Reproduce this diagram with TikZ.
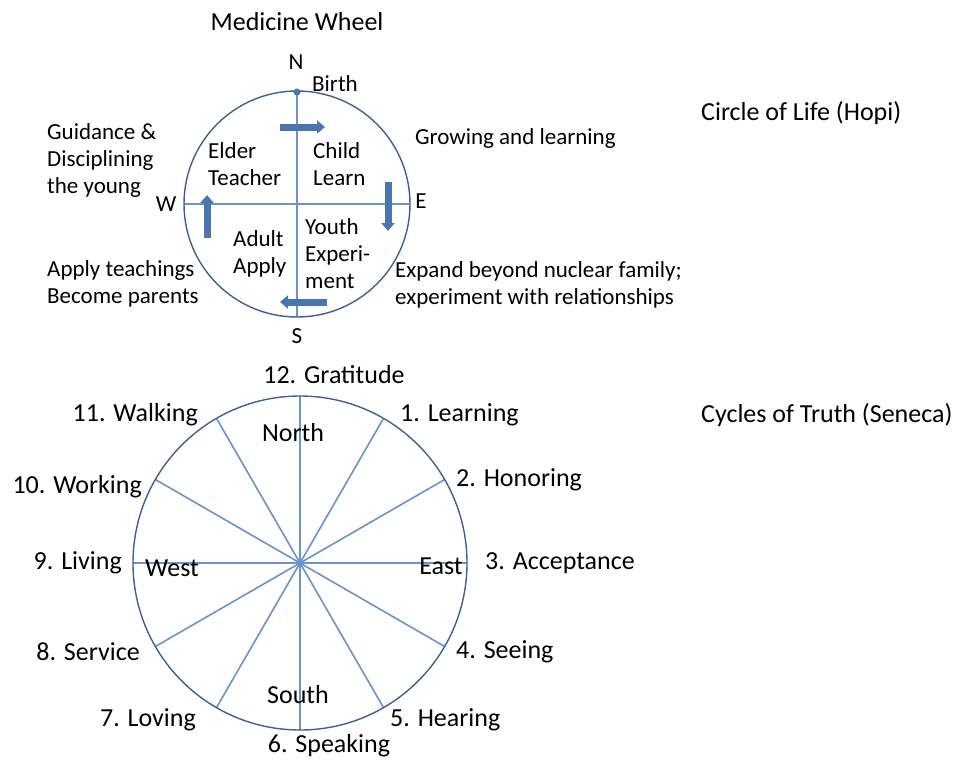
\documentclass[tikz,border=0pt]{standalone}
\usepackage{fontspec}
\setmainfont{Carlito}
\usetikzlibrary{arrows.meta}

\definecolor{rimblue}{RGB}{62,96,146}
\definecolor{spokeblue}{RGB}{108,146,200}
\definecolor{flowblue}{RGB}{74,118,176}

\tikzset{
    wheel text/.style={
        inner sep=0pt,align=left,
        font=\fontsize{23}{27}\selectfont
    },
    cycle text/.style={
        inner sep=0pt,
        font=\fontsize{26}{28}\selectfont
    },
    caption text/.style={
        inner sep=0pt,
        font=\fontsize{26}{28}\selectfont
    },
    rim/.style={draw=rimblue,line width=1.4pt},
    spoke/.style={draw=spokeblue,line width=1.6pt},
    flow/.style={
        draw=flowblue,line width=7pt,
        -{Triangle[length=8pt,width=13pt]}
    }
}

\begin{document}
\begin{tikzpicture}[x=1pt,y=-1pt]
        \useasboundingbox (0,0) rectangle (961,761);
        % medicine wheel
        \coordinate (hub) at (297,204);
        \draw[spoke] (297,92) -- (297,317);
        \draw[spoke] (184,204) -- (410,204);
        \draw[rim] (hub) circle (113);
        \fill[flowblue] (297,92) circle (3.5);
        \draw[flow] (280,127) -- (325,127);
        \draw[flow] (388,182) -- (388,231);
        \draw[flow] (327,302) -- (280,302);
        \draw[flow] (207,238) -- (207,195);
        \node[caption text] (title) at (297,22) {Medicine Wheel};
        \node[caption text,anchor=west] (hopi) at (701,113) {Circle of Life (Hopi)};
        \foreach \pos/\anc/\name/\txt in {
            {(296,62)}/center/N/N,
            {(312,84)}/west/birth/Birth,
            {(166,204)}/center/W/W,
            {(421,201)}/center/E/E,
            {(297,336)}/center/S/S,
            {(208,164)}/west/elder/Elder\\Teacher,
            {(313,164)}/west/child/Child\\Learn,
            {(305,254)}/west/youth/Youth\\Experi-\\ment,
            {(233,254)}/west/adult/Adult\\Apply,
            {(47,160)}/west/guide/Guidance \&\\Disciplining\\the young,
            {(47,284)}/west/parents/Apply teachings\\Become parents,
            {(415,138)}/west/grow/Growing and learning,
            {(395,285)}/west/expand/Expand beyond nuclear family;\\experiment with relationships}
            \node[wheel text,anchor=\anc] (\name) at \pos {\txt};
        % cycles of truth
        \coordinate (core) at (300,563);
        \foreach \a in {0,30,...,330}
            \draw[spoke] (core) -- ++(\a:167);
        \draw[rim] (core) circle (167);
        \node[caption text,anchor=west] (seneca) at (701,415) {Cycles of Truth (Seneca)};
        \foreach \pos/\anc/\name/\txt in {
            {(334,375)}/center/c12/12. Gratitude,
            {(400,415)}/west/c1/1. Learning,
            {(456,480)}/west/c2/2. Honoring,
            {(485,563)}/west/c3/3. Acceptance,
            {(456,652)}/west/c4/4. Seeing,
            {(390,720)}/west/c5/5. Hearing,
            {(329,746)}/center/c6/6. Speaking,
            {(196,720)}/east/c7/7. Loving,
            {(140,652)}/east/c8/8. Service,
            {(122,563)}/east/c9/9. Living,
            {(142,487)}/east/c10/10. Working,
            {(198,415)}/east/c11/11. Walking,
            {(293,433)}/center/dir-n/North,
            {(298,695)}/center/dir-s/South,
            {(172,568)}/center/dir-w/West,
            {(441,566)}/center/dir-e/East}
            \node[cycle text,anchor=\anc] (\name) at \pos {\txt};
    \end{tikzpicture}
\end{document}
